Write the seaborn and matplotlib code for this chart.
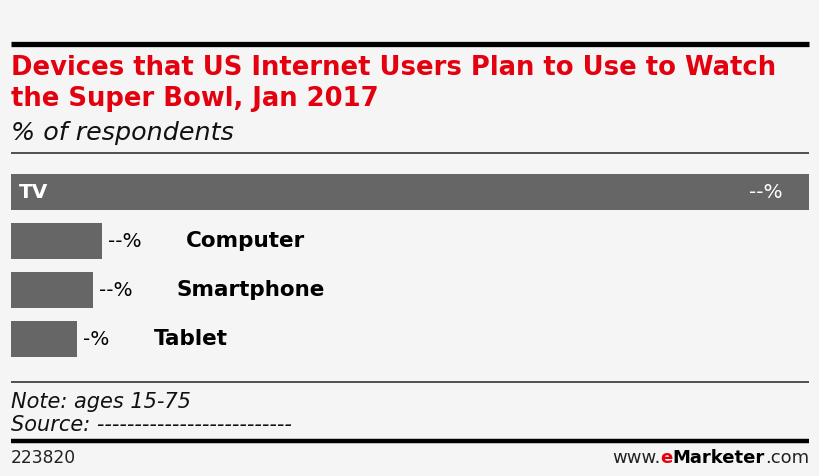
import matplotlib
matplotlib.use("Agg")
import matplotlib.pyplot as plt
import seaborn as sns
import pandas as pd
from matplotlib.lines import Line2D
from matplotlib.text import Annotation

# Data (values are hidden in the source, bar lengths)
devices = ["TV", "Computer", "Smartphone", "Tablet"]
share = [100.0, 11.4, 10.3, 8.3]
share_labels = ["--%", "--%", "--%", "-%"]

title_lines = ["Devices that US Internet Users Plan to Use to Watch",
               "the Super Bowl, Jan 2017"]
subtitle = "% of respondents"
note = "Note: ages 15-75"
source = "Source: --------------------------"
chart_id = "223820"

df = pd.DataFrame({"device": devices, "share": share})

W, H = 820, 476
BG = "#f5f5f5"
BAR = "#666666"
RED = "#e3000f"

sns.set_theme(style="white")
plt.rcParams["font.family"] = ["DejaVu Sans"]

fig = plt.figure(figsize=(W / 100, H / 100), dpi=100, facecolor=BG)


def fx(px):
    return px / W


def fy(py):
    return 1 - py / H


def hline(y, lw, color):
    fig.add_artist(Line2D([fx(11), fx(809)], [fy(y), fy(y)], lw=lw, color=color,
                          solid_capstyle="butt"))


# ===============================
# Bars
# ===============================
ax = fig.add_axes([fx(11), fy(364), fx(809) - fx(11), fy(167.5) - fy(364)])
ax.set_facecolor(BG)
sns.barplot(data=df, x="share", y="device", orient="h", color=BAR,
            width=0.735, saturation=1, linewidth=0, ax=ax)
ax.set_xlim(0, max(share))
ax.set_ylim(3.5, -0.5)
ax.axis("off")

# first bar: labels inside
ax.annotate(devices[0], xy=(0, 0), xytext=(8, 0), textcoords="offset pixels",
            ha="left", va="center", color="white", fontsize=14.5, fontweight="bold")
ax.annotate(share_labels[0], xy=(share[0], 0), xytext=(-26, 0), textcoords="offset pixels",
            ha="right", va="center", color="white", fontsize=14.5)

# others: value then name to the right of the bar
for i in range(1, len(devices)):
    t = ax.annotate(share_labels[i], xy=(share[i], i), xytext=(6, 0),
                    textcoords="offset pixels", ha="left", va="center",
                    color="black", fontsize=14.5)
    ax.annotate(devices[i], xy=(1, 0.5), xycoords=t, xytext=(44, 0),
                textcoords="offset pixels", ha="left", va="center",
                color="black", fontsize=15.5, fontweight="bold")

# ===============================
# Header / footer
# ===============================
hline(43.5, 3.8, "black")
fig.text(fx(11), fy(75), title_lines[0], color=RED, fontsize=18.6,
         fontweight="bold", va="baseline", ha="left")
fig.text(fx(11), fy(106), title_lines[1], color=RED, fontsize=18.6,
         fontweight="bold", va="baseline", ha="left")
fig.text(fx(11), fy(140), subtitle, color="#111111", fontsize=18.3,
         style="italic", va="baseline", ha="left")
hline(152.5, 1.2, "#333333")

hline(382, 1.2, "#333333")
fig.text(fx(11), fy(408), note, color="#111111", fontsize=15,
         style="italic", va="baseline", ha="left")
fig.text(fx(11), fy(431), source, color="#111111", fontsize=15,
         style="italic", va="baseline", ha="left")
hline(440.5, 3.2, "black")
fig.text(fx(11), fy(463), chart_id, color="#222222", fontsize=12.3,
         va="baseline", ha="left")

# www.eMarketer.com, built from the right
prev = fig.text(fx(809), fy(467), ".com", color="#222222", fontsize=13,
                va="bottom", ha="right")
parts = [("Marketer", "black", "bold"), ("e", RED, "bold"), ("www.", "#222222", "normal")]
for txt, col, wt in parts:
    prev = fig.add_artist(
        Annotation(txt, xy=(0, 0), xycoords=prev, xytext=(0, 0),
                   textcoords="offset pixels", ha="right", va="bottom",
                   color=col, fontsize=13, fontweight=wt))

fig.savefig("out.png", dpi=100, facecolor=BG)
